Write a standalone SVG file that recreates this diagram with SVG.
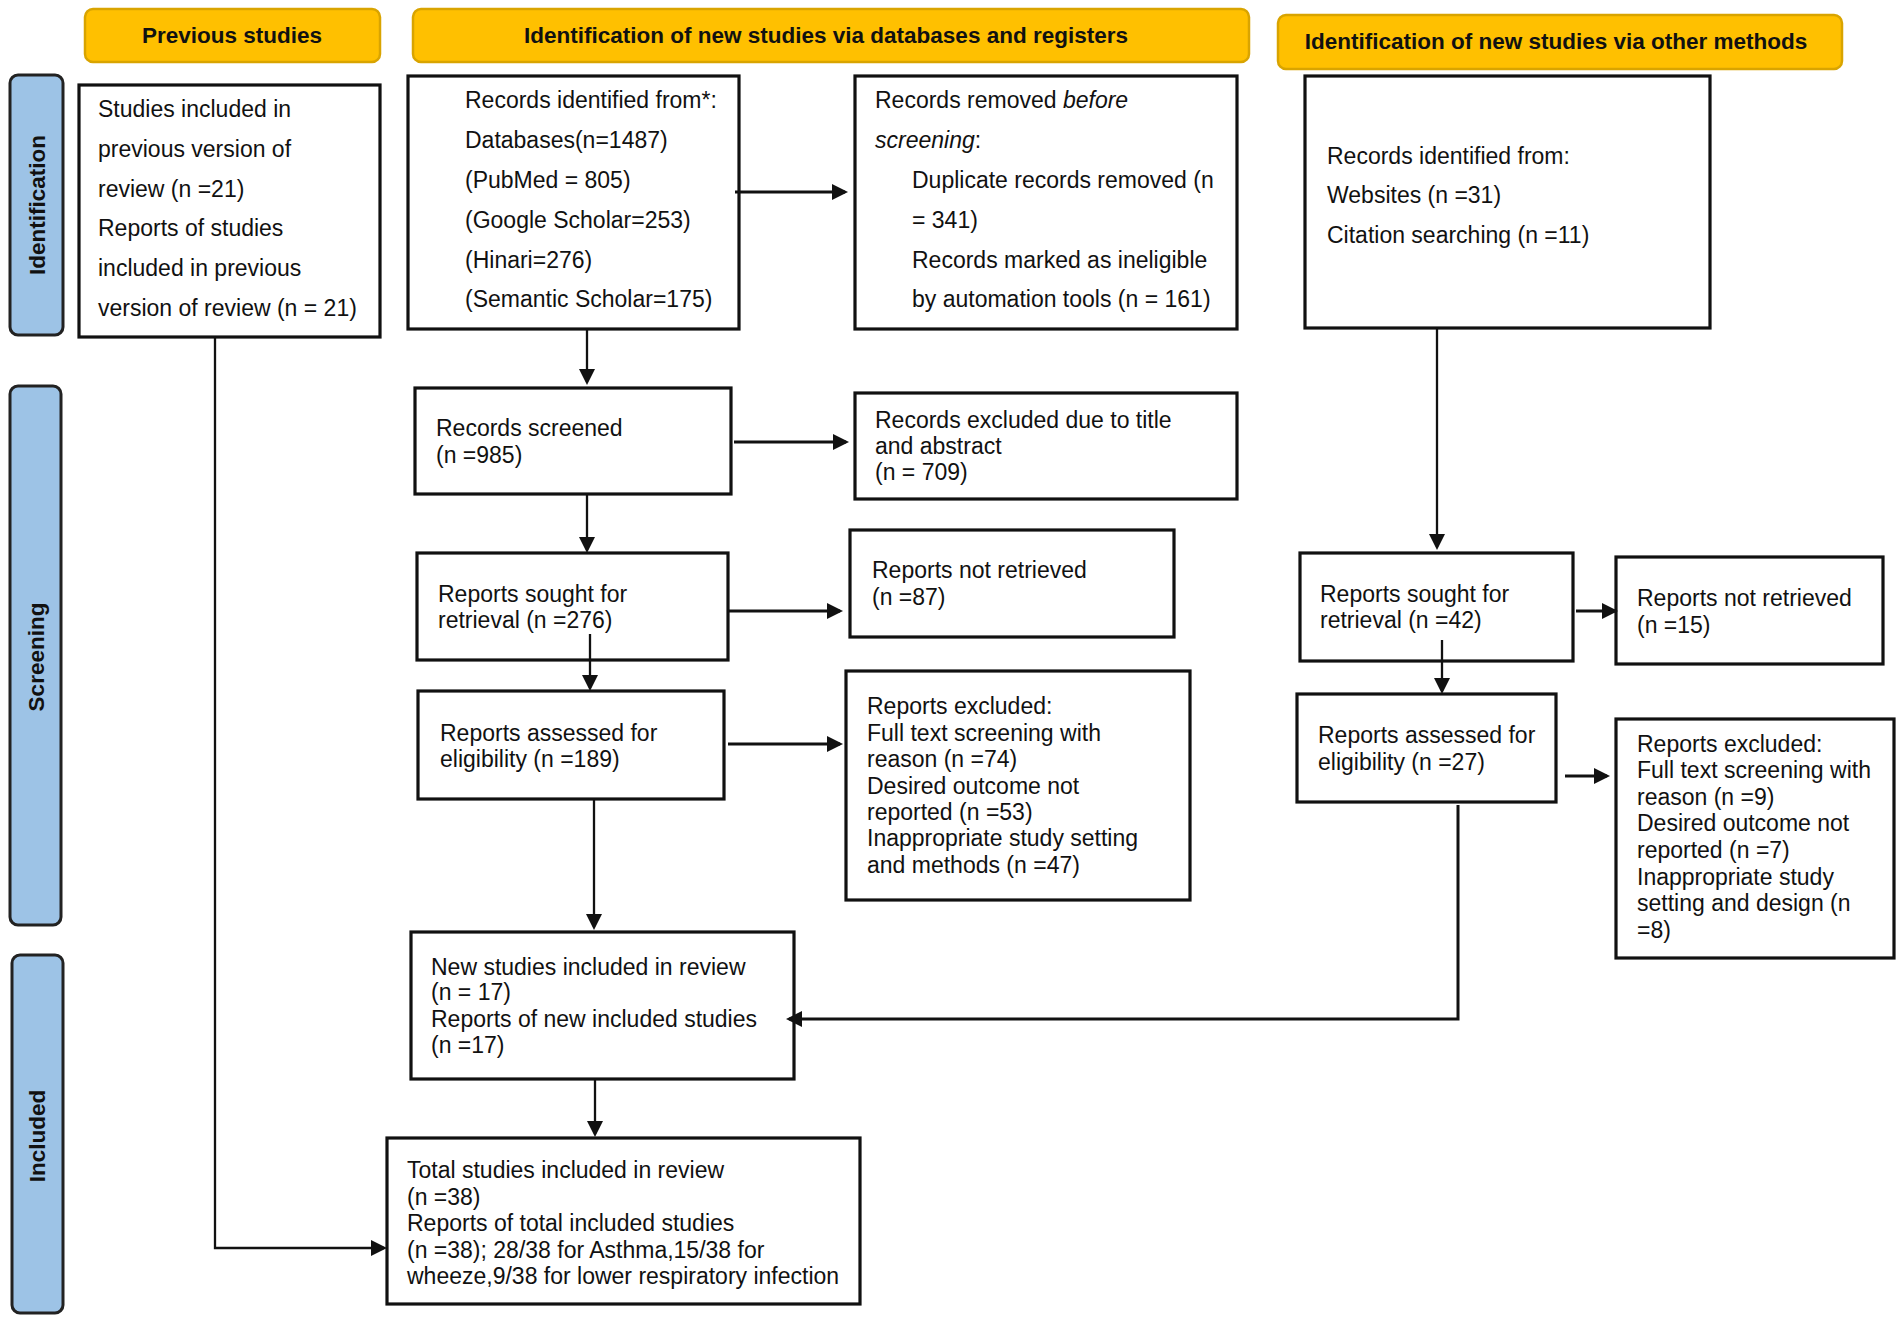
<svg xmlns="http://www.w3.org/2000/svg" width="1902" height="1322" viewBox="0 0 1902 1322">
<defs>
<style>
.hdr{fill:#FFC000;stroke:#D9A400;stroke-width:2.5}
.hdrt{font-family:"Liberation Sans",Arial,sans-serif;font-weight:bold;font-size:22.5px;fill:#111;text-anchor:middle}
.side{fill:#9DC3E6;stroke:#222;stroke-width:3}
.sidet{font-family:"Liberation Sans",Arial,sans-serif;font-weight:bold;font-size:22.5px;fill:#111;text-anchor:middle}
.box{fill:#fff;stroke:#111;stroke-width:3.2}
.t{font-family:"Liberation Sans",Arial,sans-serif;font-size:23px;fill:#111}
.c{fill:none;stroke:#111;stroke-width:2.3}
.ch{fill:none;stroke:#111;stroke-width:3}
</style>
<marker id="ah" viewBox="0 0 16 16" refX="13" refY="8" markerWidth="16" markerHeight="16" markerUnits="userSpaceOnUse" orient="auto"><path d="M0,0 L16,8 L0,16 z" fill="#111"/></marker>
</defs>
<rect width="1902" height="1322" fill="#fff"/>

<g id="hdr-previous"><rect class="hdr" x="85" y="9" width="295" height="53" rx="8"/><text class="hdrt" x="232" y="43">Previous studies</text></g>
<g id="hdr-databases"><rect class="hdr" x="413" y="9" width="836" height="53" rx="8"/><text class="hdrt" x="826" y="43">Identification of new studies via databases and registers</text></g>
<g id="hdr-other"><rect class="hdr" x="1278" y="15" width="564" height="54" rx="8"/><text class="hdrt" x="1556" y="49">Identification of new studies via other methods</text></g>

<g id="side-identification"><rect class="side" x="10" y="75" width="53" height="260" rx="8"/><text class="sidet" transform="translate(37,205) rotate(-90)" y="8">Identification</text></g>
<g id="side-screening"><rect class="side" x="10" y="386" width="51" height="539" rx="8"/><text class="sidet" transform="translate(36,657) rotate(-90)" y="8">Screening</text></g>
<g id="side-included"><rect class="side" x="12" y="955" width="51" height="358" rx="8"/><text class="sidet" transform="translate(37,1136) rotate(-90)" y="8">Included</text></g>

<g id="previous">
<rect class="box" x="79" y="85" width="301" height="252"/>
<text class="t"><tspan x="98" y="117">Studies included in</tspan><tspan x="98" y="157">previous version of</tspan><tspan x="98" y="197">review (n =21)</tspan><tspan x="98" y="236">Reports of studies</tspan><tspan x="98" y="276">included in previous</tspan><tspan x="98" y="316">version of review (n = 21)</tspan></text>
</g>
<g id="records-identified">
<rect class="box" x="408" y="76" width="331" height="253"/>
<text class="t"><tspan x="465" y="108">Records identified from*:</tspan><tspan x="465" y="148">Databases(n=1487)</tspan><tspan x="465" y="188">(PubMed = 805)</tspan><tspan x="465" y="228">(Google Scholar=253)</tspan><tspan x="465" y="268">(Hinari=276)</tspan><tspan x="465" y="307">(Semantic Scholar=175)</tspan></text>
</g>
<g id="records-removed">
<rect class="box" x="855" y="76" width="382" height="253"/>
<text class="t"><tspan x="875" y="108">Records removed <tspan font-style="italic">before</tspan></tspan><tspan x="875" y="148"><tspan font-style="italic">screening</tspan>:</tspan><tspan x="912" y="188">Duplicate records removed (n</tspan><tspan x="912" y="228">= 341)</tspan><tspan x="912" y="268">Records marked as ineligible</tspan><tspan x="912" y="307">by automation tools (n = 161)</tspan></text>
</g>
<g id="other-records">
<rect class="box" x="1305" y="76" width="405" height="252"/>
<text class="t"><tspan x="1327" y="164">Records identified from:</tspan><tspan x="1327" y="203">Websites (n =31)</tspan><tspan x="1327" y="243">Citation searching (n =11)</tspan></text>
</g>
<g id="records-screened">
<rect class="box" x="415" y="388" width="316" height="106"/>
<text class="t"><tspan x="436" y="436">Records screened</tspan><tspan x="436" y="463">(n =985)</tspan></text>
</g>
<g id="records-excluded">
<rect class="box" x="855" y="393" width="382" height="106"/>
<text class="t"><tspan x="875" y="428">Records excluded due to title</tspan><tspan x="875" y="454">and abstract</tspan><tspan x="875" y="480">(n = 709)</tspan></text>
</g>
<g id="sought-db">
<rect class="box" x="417" y="553" width="311" height="107"/>
<text class="t"><tspan x="438" y="602">Reports sought for</tspan><tspan x="438" y="628">retrieval (n =276)</tspan></text>
</g>
<g id="not-retrieved-db">
<rect class="box" x="850" y="530" width="324" height="107"/>
<text class="t"><tspan x="872" y="578">Reports not retrieved</tspan><tspan x="872" y="605">(n =87)</tspan></text>
</g>
<g id="assessed-db">
<rect class="box" x="418" y="691" width="306" height="108"/>
<text class="t"><tspan x="440" y="741">Reports assessed for</tspan><tspan x="440" y="767">eligibility (n =189)</tspan></text>
</g>
<g id="excluded-db">
<rect class="box" x="846" y="671" width="344" height="229"/>
<text class="t"><tspan x="867" y="714">Reports excluded:</tspan><tspan x="867" y="741">Full text screening with</tspan><tspan x="867" y="767">reason (n =74)</tspan><tspan x="867" y="794">Desired outcome not</tspan><tspan x="867" y="820">reported (n =53)</tspan><tspan x="867" y="846">Inappropriate study setting</tspan><tspan x="867" y="873">and methods (n =47)</tspan></text>
</g>
<g id="sought-other">
<rect class="box" x="1300" y="553" width="273" height="108"/>
<text class="t"><tspan x="1320" y="602">Reports sought for</tspan><tspan x="1320" y="628">retrieval (n =42)</tspan></text>
</g>
<g id="not-retrieved-other">
<rect class="box" x="1616" y="557" width="267" height="107"/>
<text class="t"><tspan x="1637" y="606">Reports not retrieved</tspan><tspan x="1637" y="633">(n =15)</tspan></text>
</g>
<g id="assessed-other">
<rect class="box" x="1297" y="694" width="259" height="108"/>
<text class="t"><tspan x="1318" y="743">Reports assessed for</tspan><tspan x="1318" y="770">eligibility (n =27)</tspan></text>
</g>
<g id="excluded-other">
<rect class="box" x="1616" y="719" width="278" height="239"/>
<text class="t"><tspan x="1637" y="752">Reports excluded:</tspan><tspan x="1637" y="778">Full text screening with</tspan><tspan x="1637" y="805">reason (n =9)</tspan><tspan x="1637" y="831">Desired outcome not</tspan><tspan x="1637" y="858">reported (n =7)</tspan><tspan x="1637" y="885">Inappropriate study</tspan><tspan x="1637" y="911">setting and design (n</tspan><tspan x="1637" y="938">=8)</tspan></text>
</g>
<g id="new-included">
<rect class="box" x="411" y="932" width="383" height="147"/>
<text class="t"><tspan x="431" y="975">New studies included in review</tspan><tspan x="431" y="1000">(n = 17)</tspan><tspan x="431" y="1027">Reports of new included studies</tspan><tspan x="431" y="1053">(n =17)</tspan></text>
</g>
<g id="total-included">
<rect class="box" x="387" y="1138" width="473" height="166"/>
<text class="t"><tspan x="407" y="1178">Total studies included in review</tspan><tspan x="407" y="1205">(n =38)</tspan><tspan x="407" y="1231">Reports of total included studies</tspan><tspan x="407" y="1258">(n =38); 28/38 for Asthma,15/38 for</tspan><tspan x="407" y="1284">wheeze,9/38 for lower respiratory infection</tspan></text>
</g>

<g id="connectors">
<path class="c" d="M215,337 V1248 H384" marker-end="url(#ah)"/>
<path class="c" d="M587,329 V382" marker-end="url(#ah)"/>
<path class="ch" d="M735,192 H845" marker-end="url(#ah)"/>
<path class="ch" d="M734,442 H846" marker-end="url(#ah)"/>
<path class="c" d="M587,494 V550" marker-end="url(#ah)"/>
<path class="ch" d="M728,611 H840" marker-end="url(#ah)"/>
<path class="c" d="M590,634 V688" marker-end="url(#ah)"/>
<path class="ch" d="M728,744 H840" marker-end="url(#ah)"/>
<path class="c" d="M594,800 V927" marker-end="url(#ah)"/>
<path class="c" d="M595,1080 V1134" marker-end="url(#ah)"/>
<path class="c" d="M1437,328 V547" marker-end="url(#ah)"/>
<path class="ch" d="M1576,611 H1615" marker-end="url(#ah)"/>
<path class="c" d="M1442,640 V691" marker-end="url(#ah)"/>
<path class="ch" d="M1565,776 H1607" marker-end="url(#ah)"/>
<path class="ch" d="M1458,805 V1019 H789" marker-end="url(#ah)"/>
</g>
</svg>
